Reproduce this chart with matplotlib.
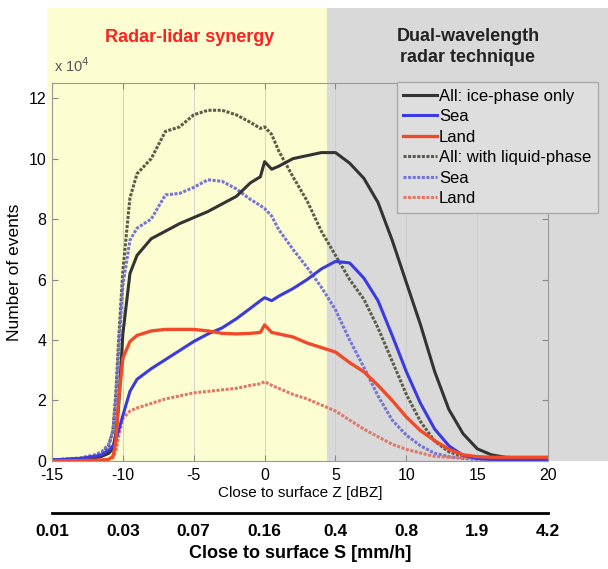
"""Number of events vs close-to-surface Z, radar-lidar vs dual-wavelength regimes."""

import matplotlib
matplotlib.use("Agg")
import matplotlib.pyplot as plt
from matplotlib.patches import Rectangle
from matplotlib.ticker import FuncFormatter

# Close to surface Z [dBZ]
z_dbz = [-15, -13, -12, -11.5, -11, -10.7, -10.5, -10.3, -10, -9.5, -9, -8, -7, -6, -5,
         -4, -3, -2, -1, -0.3, 0, 0.5, 1, 2, 3, 4, 5, 6, 7, 8, 9, 10, 11, 12, 13,
         14, 15, 16, 17, 18, 19, 20]

# number of events, in units of 1e4
all_ice = [0.03, 0.06, 0.1, 0.15, 0.25, 0.4, 0.9, 1.8, 4.2, 6.2, 6.8, 7.35, 7.6, 7.85, 8.05,
           8.25, 8.5, 8.75, 9.2, 9.4, 9.9, 9.65, 9.75, 10.0, 10.1, 10.2, 10.2, 9.85, 9.35, 8.55, 7.3,
           5.9, 4.5, 2.95, 1.7, 0.9, 0.4, 0.2, 0.12, 0.1, 0.1, 0.08]
sea_ice = [0.03, 0.08, 0.15, 0.2, 0.35, 0.5, 0.7, 1.0, 1.5, 2.3, 2.7, 3.05, 3.35, 3.65, 3.95,
           4.2, 4.4, 4.7, 5.05, 5.3, 5.4, 5.3, 5.45, 5.7, 6.0, 6.35, 6.6, 6.55, 6.05, 5.3, 4.15,
           2.95, 1.9, 1.05, 0.5, 0.18, 0.08, 0.05, 0.05, 0.05, 0.05, 0.05]
land_ice = [0.0, 0.01, 0.02, 0.03, 0.05, 0.15, 0.6, 2.0, 3.4, 3.95, 4.15, 4.3, 4.35, 4.35, 4.35,
            4.3, 4.22, 4.2, 4.22, 4.25, 4.5, 4.25, 4.2, 4.1, 3.9, 3.75, 3.6, 3.25, 2.95, 2.5, 2.0,
            1.45, 1.0, 0.67, 0.38, 0.2, 0.14, 0.12, 0.12, 0.12, 0.12, 0.12]
all_liq = [0.03, 0.08, 0.15, 0.25, 0.5, 1.0, 2.2, 4.0, 6.3, 8.7, 9.5, 10.0, 10.9, 11.05, 11.45,
           11.6, 11.6, 11.45, 11.2, 11.0, 11.05, 10.8, 10.25, 9.4, 8.6, 7.6, 6.8, 6.0, 5.35, 4.4, 3.3,
           2.2, 1.3, 0.65, 0.3, 0.15, 0.08, 0.05, 0.05, 0.05, 0.05, 0.05]
sea_liq = [0.03, 0.1, 0.2, 0.3, 0.55, 1.0, 2.0, 3.6, 5.8, 7.3, 7.7, 8.0, 8.8, 8.85, 9.05,
           9.3, 9.25, 9.0, 8.65, 8.45, 8.35, 8.1, 7.65, 7.0, 6.4, 5.75, 5.0, 4.0, 3.1, 2.15, 1.35,
           0.85, 0.5, 0.25, 0.14, 0.08, 0.05, 0.05, 0.05, 0.05, 0.05, 0.05]
land_liq = [0.0, 0.01, 0.02, 0.03, 0.05, 0.1, 0.3, 0.8, 1.4, 1.65, 1.75, 1.9, 2.05, 2.15, 2.25,
            2.3, 2.35, 2.4, 2.5, 2.55, 2.62, 2.5, 2.4, 2.2, 2.05, 1.85, 1.65, 1.35, 1.05, 0.8, 0.55,
            0.38, 0.26, 0.15, 0.12, 0.1, 0.1, 0.1, 0.1, 0.1, 0.1, 0.1]

z_ticks = [-15, -10, -5, 0, 5, 10, 15, 20]
s_labels = ["0.01", "0.03", "0.07", "0.16", "0.4", "0.8", "1.9", "4.2"]
regime_edge = 4.4  # dBZ, boundary between the two retrieval regimes

plt.rcParams["font.family"] = ["Liberation Sans", "DejaVu Sans"]
plt.rcParams["axes.unicode_minus"] = False

fig = plt.figure(figsize=(6.08, 5.69), dpi=100)
left, bottom, width, height = 0.0855, 0.19, 0.816, 0.664
ax = fig.add_axes([left, bottom, width, height])
ax.set_facecolor("none")
ax.set_xlim(-15, 20)
ax.set_ylim(0, 12.5e4)

# background regimes, drawn in figure coordinates
x_edge = left + (regime_edge + 15) / 35 * width
top = 1 - 8 / 569
fig.patches.append(Rectangle((left - 0.008, bottom), x_edge - left + 0.008, top - bottom,
                             transform=fig.transFigure, facecolor="#fdfdd2",
                             edgecolor="none", zorder=-1))
fig.patches.append(Rectangle((x_edge, bottom), 1 - x_edge, top - bottom,
                             transform=fig.transFigure, facecolor="#d9d9d9",
                             edgecolor="none", zorder=-1))

scale = 1e4
dotted = (0, (1, 0.5))
ax.plot(z_dbz, [v * scale for v in all_liq], color="#5b5c48", lw=2.2, ls=dotted,
        label="All: with liquid-phase")
ax.plot(z_dbz, [v * scale for v in sea_liq], color="#7474d6", lw=2.2, ls=dotted, label="Sea")
ax.plot(z_dbz, [v * scale for v in land_liq], color="#e07868", lw=2.2, ls=dotted, label="Land")
ax.plot(z_dbz, [v * scale for v in all_ice], color="#333333", lw=2.2, label="All: ice-phase only")
ax.plot(z_dbz, [v * scale for v in sea_ice], color="#3a3ae0", lw=2.2, label="Sea")
ax.plot(z_dbz, [v * scale for v in land_ice], color="#f04a2a", lw=2.4, label="Land")

ax.set_xticks(z_ticks)
ax.set_yticks([i * scale for i in range(0, 13, 2)])
ax.yaxis.set_major_formatter(FuncFormatter(lambda v, _: f"{v / scale:g}"))
ax.tick_params(direction="in", top=True, right=True, labelsize=11.5, length=4,
               color="#888888")
ax.tick_params(axis="x", pad=5)
ax.tick_params(axis="y", pad=4)
ax.grid(axis="x", color="#cccccc", lw=0.6)
for s in ax.spines.values():
    s.set_color("#999999")
ax.set_xlabel("Close to surface Z [dBZ]", fontsize=11, labelpad=2)
ax.set_ylabel("Number of events", fontsize=12.5, labelpad=5)
ax.text(0.005, 1.03, r"x 10$^4$", transform=ax.transAxes, fontsize=10.5, color="#555555")

# legend order as in the original
handles, labels = ax.get_legend_handles_labels()
order = [3, 4, 5, 0, 1, 2]
ax.legend([handles[i] for i in order], [labels[i] for i in order],
          loc="upper right", bbox_to_anchor=(598 / 608, 1 - 82 / 569),
          bbox_transform=fig.transFigure, fontsize=12, frameon=True, fancybox=False,
          facecolor="#dedede", edgecolor="#aaaaaa", framealpha=1, borderaxespad=0,
          labelspacing=0.33, handlelength=2.0, handletextpad=0.15, borderpad=0.4)

fig.text(190 / 608, 1 - 37 / 569, "Radar-lidar synergy", color="#ff2020",
         fontsize=13, fontweight="bold", ha="center", va="center")
fig.text(468 / 608, 1 - 47 / 569, "Dual-wavelength\nradar technique", color="#222222",
         fontsize=13, fontweight="bold", ha="center", va="center", linespacing=1.25)

# second scale: surface rain rate
sax = fig.add_axes([left, 1 - 513 / 569, width, 0.0001])
sax.set_xlim(-15, 20)
sax.set_xticks(z_ticks)
sax.set_xticklabels(s_labels, fontweight="bold", fontsize=12.5)
sax.set_yticks([])
for name in ["top", "left", "right"]:
    sax.spines[name].set_visible(False)
sax.spines["bottom"].set_linewidth(2)
sax.tick_params(axis="x", length=0, pad=8)
sax.set_xlabel("Close to surface S [mm/h]", fontsize=13, fontweight="bold", labelpad=4)

fig.savefig("out.png", dpi=100)
